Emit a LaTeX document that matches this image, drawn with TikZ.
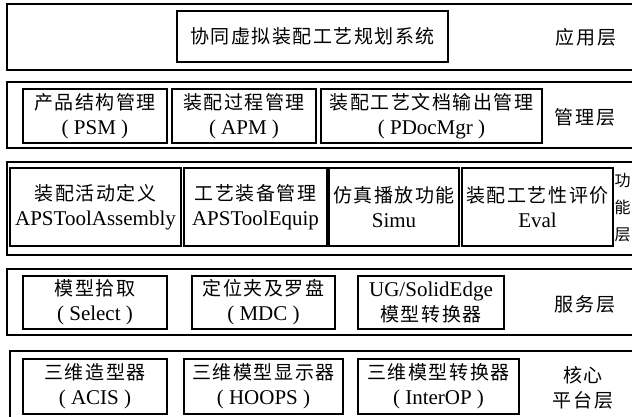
\documentclass[tikz,border=0pt]{standalone}
\usepackage{fontspec}
\setmainfont{Liberation Serif}
\newfontfamily\cjk[LetterSpace=8]{Noto Sans CJK SC}
\usetikzlibrary{positioning}
\newcommand{\zh}[1]{{\cjk\fontsize{19}{25}\selectfont #1}}
\newcommand{\en}[1]{{\fontsize{21}{25}\selectfont #1}}

\begin{document}
\begin{tikzpicture}[x=1pt, y=-1pt,
    layerbox/.style={draw, line width=1.6pt, inner sep=0pt},
    modbox/.style={draw, line width=1.3pt, inner sep=0pt, align=center, font=\fontsize{17}{25}\selectfont},
    tag/.style={align=center, font=\fontsize{17}{25}\selectfont}]
    \useasboundingbox (0,0) rectangle (632,417);

    % Application layer
    \node[layerbox, minimum width=633pt, minimum height=66pt] (applayer) at (323.5,37) {};
    \node[modbox, minimum width=271pt, minimum height=51pt] (cavp) at (312.5,36.5) {\zh{协同虚拟装配工艺规划系统}};
    \node[tag] (applabel) at (586,37) {\zh{应用层}};

    % Management layer
    \node[layerbox, minimum width=633pt, minimum height=66pt] (mgrlayer) at (323.5,115) {};
    \node[modbox, minimum width=144pt, minimum height=54pt] (psm) at (95,116) {\zh{产品结构管理}\\\en{( PSM )}};
    \node[modbox, minimum width=144pt, minimum height=54pt] (apm) at (244,116) {\zh{装配过程管理}\\\en{( APM )}};
    \node[modbox, minimum width=221pt, minimum height=54pt] (pdoc) at (431.5,116) {\zh{装配工艺文档输出管理}\\\en{( PDocMgr )}};
    \node[tag] (mgrlabel) at (585,117) {\zh{管理层}};

    % Function layer
    \node[layerbox, minimum width=633pt, minimum height=93pt] (funlayer) at (323.5,208.5) {};
    \node[modbox, minimum width=171pt, minimum height=78pt] (asm) at (95.5,207) {\zh{装配活动定义}\\\en{APSToolAssembly}};
    \node[modbox, minimum width=143pt, minimum height=78pt] (equip) at (255.5,207) {\zh{工艺装备管理}\\\en{APSToolEquip}};
    \node[modbox, minimum width=130pt, minimum height=78pt] (simu) at (394,207) {\zh{仿真播放功能}\\\en{Simu}};
    \node[modbox, minimum width=151pt, minimum height=78pt] (eval) at (537.5,207) {\zh{装配工艺性评价}\\\en{Eval}};
    \node[tag, font=\cjk\fontsize{16}{27}\selectfont] (funlabel) at (622.5,208) {功\\能\\层};

    % Service layer
    \node[layerbox, minimum width=633pt, minimum height=66pt] (srvlayer) at (323.5,302) {};
    \node[modbox, minimum width=144pt, minimum height=53pt] (select) at (95,302.5) {\zh{模型拾取}\\\en{( Select )}};
    \node[modbox, minimum width=143pt, minimum height=53pt] (mdc) at (263.5,302.5) {\zh{定位夹及罗盘}\\\en{( MDC )}};
    \node[modbox, minimum width=146pt, minimum height=53pt] (ugse) at (431,302.5) {\en{UG/SolidEdge}\\\zh{模型转换器}};
    \node[tag] (srvlabel) at (585,304) {\zh{服务层}};

    % Core platform layer
    \node[layerbox, minimum width=630pt, minimum height=74pt] (corelayer) at (325,388) {};
    \node[modbox, minimum width=144pt, minimum height=55pt] (acis) at (95,386.5) {\zh{三维造型器}\\\en{( ACIS )}};
    \node[modbox, minimum width=159pt, minimum height=55pt] (hoops) at (263.5,386.5) {\zh{三维模型显示器}\\\en{( HOOPS )}};
    \node[modbox, minimum width=161pt, minimum height=55pt] (interop) at (438.5,386.5) {\zh{三维模型转换器}\\\en{( InterOP )}};
    \node[tag] (corelabel) at (583,387.5) {\zh{核心}\\\zh{平台层}};
\end{tikzpicture}
\end{document}
